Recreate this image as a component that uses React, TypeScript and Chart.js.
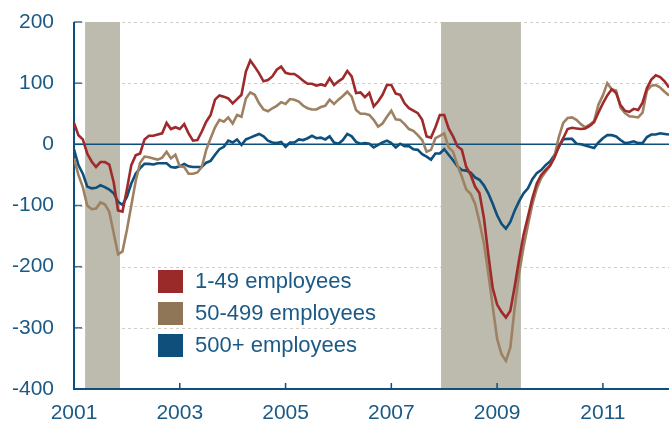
import React, { useEffect, useRef } from "react";
import { Chart, registerables } from "chart.js";

Chart.register(...registerables);

// Monthly data, starting January 2001
const START_YEAR = 2001;
const END_YEAR = 2012.25;

const SERIES_LABELS = ["1-49 employees", "50-499 employees", "500+ employees"];
const SERIES_COLORS = ["#9E2A2B", "#9D8162", "#0E4F7C"];
const LEGEND_SWATCHES = ["#9A2A2A", "#8E7656", "#0E4F7C"];

const SMALL = [
  35, 15, 8, -15, -28, -37, -29, -29, -33, -62, -108, -110, -74, -34, -18, -15, 8, 14, 14, 16,
  18, 35, 25, 28, 25, 33, 18, 6, 7, 21, 37, 48, 73, 80, 78, 75, 67, 74, 81, 119,
  137, 127, 116, 103, 105, 111, 122, 127, 117, 115, 115, 110, 104, 99, 99, 96, 98, 96, 108, 97,
  103, 108, 120, 111, 84, 85, 77, 84, 62, 70, 81, 97, 97, 83, 81, 67, 59, 55, 51, 40,
  13, 11, 28, 48, 48, 26, 13, -3, -9, -37, -50, -69, -80, -120, -180, -235, -262, -274, -283, -272,
  -232, -188, -148, -118, -88, -64, -50, -42, -35, -22, -4, 10, 25, 27, 26, 25, 26, 30, 36, 52,
  67, 80, 90, 84, 64, 55, 53, 58, 56, 68, 92, 106, 113, 110, 103, 93,
];

const MID = [
  -23, -50, -70, -100, -106, -105, -95, -98, -110, -145, -180, -175, -140, -100, -60, -30, -20, -21, -23, -25,
  -22, -12, -23, -17, -36, -37, -48, -48, -46, -37, -9, 10, 28, 40, 37, 44, 34, 48, 45, 75,
  85, 81, 67, 57, 54, 59, 63, 69, 66, 74, 73, 70, 63, 59, 57, 57, 61, 63, 73, 66,
  73, 79, 86, 78, 56, 50, 50, 48, 40, 29, 34, 45, 55, 41, 40, 33, 25, 22, 15, 7,
  -12, -9, 10, 14, 18, -5, -12, -34, -53, -74, -81, -97, -127, -162, -211, -265, -318, -343, -354, -332,
  -266, -211, -168, -132, -98, -72, -55, -45, -35, -20, 12, 35, 43, 44, 40, 33, 28, 32, 38, 65,
  80, 100, 90, 88, 60, 51, 46, 45, 44, 52, 88, 96, 97, 93, 86, 80,
];

const LARGE = [
  -8, -34, -48, -69, -72, -71, -67, -70, -74, -80, -94, -99, -86, -64, -48, -39, -32, -32, -33, -31,
  -31, -31, -37, -38, -36, -32, -36, -37, -37, -37, -30, -27, -17, -8, -4, 6, 3, 8, -1, 8,
  11, 14, 17, 13, 6, 3, 2, 4, -4, 3, 3, 8, 7, 10, 14, 10, 11, 8, 13, 3,
  1, 7, 17, 13, 4, 1, 2, 1, -5, -1, 3, 6, 2, -5, 1, -3, -3, -8, -9, -16,
  -20, -25, -15, -15, -8, -17, -26, -36, -42, -43, -46, -54, -58, -67, -80, -97, -116, -130, -138, -127,
  -108, -93, -80, -72, -57, -47, -42, -34, -28, -18, -4, 8, 9, 9, 1, 0, -2, -4, -6, 3,
  10, 15, 15, 13, 7, 2, 3, 5, 2, 2, 12, 16, 16, 18, 17, 16,
];

const X_TICKS = [2001, 2003, 2005, 2007, 2009, 2011];
const Y_TICKS = [200, 100, 0, -100, -200, -300, -400];
const RECESSIONS = [
  [2001.21, 2001.87],
  [2007.94, 2009.45],
];

const TEXT_COLOR = "#1B5A86";
const AXIS_COLOR = "#0E4F7C";
const FONT_FAMILY = "'Liberation Sans', Arial, Helvetica, sans-serif";

const toPoints = (values: number[]) =>
  values.map((v, i) => ({ x: START_YEAR + i / 12, y: v }));

const decorPlugin = {
  id: "decor",
  beforeDatasetsDraw(chart: any) {
    const { ctx, chartArea: a, scales } = chart;
    const xs = scales.x;
    const ys = scales.y;
    ctx.save();
    // dashed grid lines
    ctx.strokeStyle = "#D2CFC6";
    ctx.lineWidth = 1;
    ctx.setLineDash([3, 3]);
    Y_TICKS.forEach((t) => {
      if (t === 0 || t === -400) return;
      const y = Math.round(ys.getPixelForValue(t)) + 0.5;
      ctx.beginPath();
      ctx.moveTo(a.left, y);
      ctx.lineTo(a.right, y);
      ctx.stroke();
    });
    ctx.setLineDash([]);
    // recession shading
    ctx.fillStyle = "#BDBAAE";
    RECESSIONS.forEach(([s, e]) => {
      const x1 = xs.getPixelForValue(s);
      const x2 = xs.getPixelForValue(e);
      ctx.fillRect(x1, a.top, x2 - x1, a.bottom - a.top);
    });
    // y tick marks (inward)
    ctx.strokeStyle = "#3B6F96";
    ctx.lineWidth = 1.5;
    Y_TICKS.forEach((t) => {
      const y = ys.getPixelForValue(t);
      ctx.beginPath();
      ctx.moveTo(a.left, y);
      ctx.lineTo(a.left + 8, y);
      ctx.stroke();
    });
    // x tick marks (inward)
    ctx.strokeStyle = AXIS_COLOR;
    X_TICKS.forEach((t) => {
      const x = xs.getPixelForValue(t);
      ctx.beginPath();
      ctx.moveTo(x, a.bottom);
      ctx.lineTo(x, a.bottom - 6);
      ctx.stroke();
    });
    // zero line
    ctx.strokeStyle = AXIS_COLOR;
    ctx.lineWidth = 1.5;
    const y0 = ys.getPixelForValue(0);
    ctx.beginPath();
    ctx.moveTo(a.left, y0);
    ctx.lineTo(a.right, y0);
    ctx.stroke();
    // axes
    ctx.lineWidth = 2;
    ctx.beginPath();
    ctx.moveTo(a.left, a.top);
    ctx.lineTo(a.left, a.bottom);
    ctx.lineTo(a.right, a.bottom);
    ctx.stroke();
    ctx.restore();
  },
  afterDatasetsDraw(chart: any) {
    const { ctx } = chart;
    ctx.save();
    const left = 158;
    const tops = [270, 302, 334];
    ctx.font = `22px ${FONT_FAMILY}`;
    ctx.textBaseline = "middle";
    ctx.textAlign = "left";
    SERIES_LABELS.forEach((label, i) => {
      ctx.fillStyle = LEGEND_SWATCHES[i];
      ctx.fillRect(left, tops[i], 25, 23);
      ctx.fillStyle = TEXT_COLOR;
      ctx.fillText(label, left + 37, tops[i] + 12);
    });
    ctx.restore();
  },
};

export default function App() {
  const canvasRef = useRef<HTMLCanvasElement | null>(null);

  useEffect(() => {
    document.body.style.margin = "0";
    const canvas = canvasRef.current;
    if (!canvas) return;
    const series = [SMALL, MID, LARGE];
    const chart = new Chart(canvas, {
      type: "line",
      data: {
        datasets: series.map((vals, i) => ({
          label: SERIES_LABELS[i],
          data: toPoints(vals),
          borderColor: SERIES_COLORS[i],
          backgroundColor: SERIES_COLORS[i],
          borderWidth: 2.6,
          pointRadius: 0,
          tension: 0,
          fill: false,
        })),
      },
      options: {
        responsive: false,
        maintainAspectRatio: false,
        devicePixelRatio: 1,
        animation: false,
        layout: { padding: { top: 22, right: 0, bottom: 0, left: 0 } },
        plugins: {
          legend: { display: false },
          tooltip: { enabled: false },
        },
        scales: {
          x: {
            type: "linear",
            min: START_YEAR,
            max: END_YEAR,
            grid: { display: false, drawTicks: false },
            border: { display: false },
            afterBuildTicks: (scale: any) => {
              scale.ticks = X_TICKS.map((v) => ({ value: v }));
            },
            afterFit: (scale: any) => {
              scale.height = 34;
              scale.paddingLeft = 0;
              scale.paddingRight = 0;
            },
            ticks: {
              autoSkip: false,
              maxRotation: 0,
              padding: 12,
              color: TEXT_COLOR,
              font: { size: 21, family: FONT_FAMILY },
              callback: (v: any) => String(v),
            },
          },
          y: {
            min: -400,
            max: 200,
            grid: { display: false, drawTicks: false },
            border: { display: false },
            afterBuildTicks: (scale: any) => {
              scale.ticks = Y_TICKS.map((v) => ({ value: v }));
            },
            afterFit: (scale: any) => {
              scale.width = 74;
              scale.paddingTop = 0;
              scale.paddingBottom = 0;
            },
            ticks: {
              padding: 20,
              color: TEXT_COLOR,
              font: { size: 21, family: FONT_FAMILY },
              callback: (v: any) => String(v),
            },
          },
        },
      },
      plugins: [decorPlugin],
    });
    return () => chart.destroy();
  }, []);

  return (
    <div style={{ width: 669, height: 423, position: "relative" }}>
      <canvas ref={canvasRef} width={669} height={423} style={{ display: "block" }} />
    </div>
  );
}
